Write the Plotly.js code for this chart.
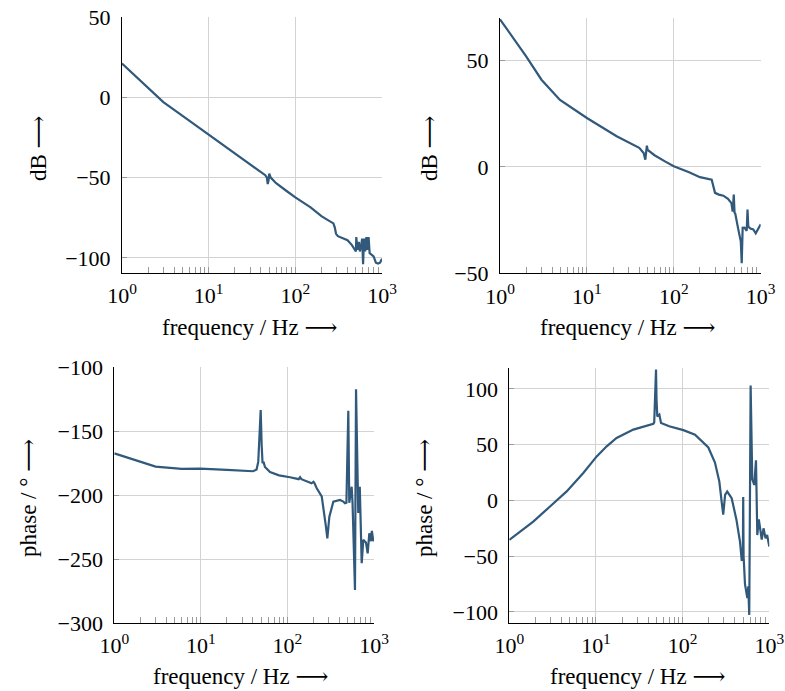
<!DOCTYPE html>
<html>
<head>
<meta charset="utf-8">
<script src="https://cdn.plot.ly/plotly-3.0.1.min.js"></script>
<style>html,body{margin:0;padding:0;background:#fff}#chart{width:785px;height:691px}</style>
</head>
<body>
<div id="chart"></div>
<script>
// ---- data ----
const freqMagA = [1, 2, 3, 5, 10, 20, 30, 40, 45, 47, 48, 49, 50, 52, 55, 60, 80, 100, 150, 200, 230, 260, 275, 285, 295, 310, 350, 400, 450, 480, 500, 505, 520, 540, 555, 575, 590, 605, 620, 640, 660, 680, 700, 720, 760, 800, 850, 900, 950, 1000];
const magA = [21, 6, -3, -11.6, -23.2, -34.8, -41.7, -46.5, -48.5, -50, -54, -52, -47.5, -50, -51.5, -53.5, -58.5, -62.3, -68.5, -74, -76, -77.5, -78.5, -81, -85, -86.5, -87.5, -89, -92, -94, -96, -87, -95, -90, -96, -92, -88, -104, -88, -96, -87, -95, -87, -97, -98, -99, -103, -103.5, -103, -100.5];

const freqMagB = [1, 1.5, 2, 3, 4.9, 10, 22, 40, 45, 47, 49, 50, 54, 60, 80, 100, 150, 200, 273, 285, 298, 330, 372, 420, 460, 476, 490, 500, 510, 550, 590, 605, 620, 650, 690, 705, 720, 760, 822, 877, 925, 1000];
const magB = [69.4, 59.5, 52, 41, 31.5, 23, 14.4, 9, 6.5, 3.4, 10, 8, 6.8, 5.5, 2.5, 0.3, -2.5, -4.8, -6, -9, -12.2, -13, -13.5, -15, -17, -21, -13, -21.5, -22, -29, -35, -45.3, -28.6, -28.5, -30, -20, -28, -29, -29.4, -31.2, -29.4, -27];

const freqPhaseA = [1, 3, 6, 9.8, 20, 40, 44, 46, 47.3, 49.1, 50.4, 51.6, 53, 55, 63, 80, 107, 135, 140, 145, 190, 200, 205, 218, 249, 264, 279, 289, 305, 339, 405, 442, 462, 480, 505, 518, 552, 565, 603, 620, 658, 685, 721, 752, 807, 845, 883, 922, 945, 982, 1000];
const phaseA = [-167.3, -177.7, -179.5, -179.3, -180.3, -181.3, -180, -174, -157, -133.4, -161, -175, -174, -178, -182, -184.5, -186, -187.5, -186, -187.5, -190.7, -189.5, -190.5, -194.6, -201, -211.6, -225, -233.8, -216.9, -205.1, -203.8, -205, -206.4, -206, -134, -206, -193.4, -206, -274.2, -117.2, -214, -193.4, -253.3, -235, -237, -245.5, -229.8, -236, -228, -236, -234];

const freqPhaseB = [1, 1.89, 2.95, 4.59, 7.14, 10.2, 13.3, 17.3, 27, 45.9, 47, 48, 49.3, 50, 51, 53.9, 56.3, 70, 102, 139, 198, 236, 265, 282, 294, 309, 327, 368, 417, 459, 480, 495, 500, 505, 524, 558, 572, 587, 609, 636, 671, 702, 727, 757, 818, 858, 906, 944, 1000];
const phaseB = [-35.3, -18.9, -5.4, 8.1, 24.6, 39.5, 48.5, 56, 63.5, 68.6, 70, 92, 117.3, 90, 75.4, 77, 69.5, 66.5, 63, 59, 47.5, 34, 17, -1, -12.8, 5, 8, 2, -17, -37, -53.3, -53, 3, -50, -75, -87.6, -77, -102.6, 103, 19, 14, 36, -31, -17, -35, -25, -34, -31, -41.3];

const xTickVals = [1, 10, 100, 1000];
const xTickText = ['10<sup>0</sup>', '10<sup>1</sup>', '10<sup>2</sup>', '10<sup>3</sup>'];
const xMinorVals = [2,3,4,5,6,7,8,9,20,30,40,50,60,70,80,90,200,300,400,500,600,700,800,900];
const yTicksMagA = [-100, -50, 0, 50];
const yTicksMagB = [-50, 0, 50];
const yTicksPhaseA = [-300, -250, -200, -150, -100];
const yTicksPhaseB = [-100, -50, 0, 50, 100];

const xTitle = 'frequency / Hz ⟶';
const yTitleMag = 'dB ⟶';
const yTitlePhase = 'phase / ° ⟶';

// ---- layout ----
const W = 785, H = 691;
const FONT = 'Liberation Serif, DejaVu Serif, serif';
const LINE = '#30597b';
function xd(a, b) { return [a / W, b / W]; }
function yd(top, bottom) { return [1 - bottom / H, 1 - top / H]; }

function xaxis(dom, anchor) {
  return {
    type: 'log', domain: dom, anchor: anchor, range: [0, 3],
    tickvals: xTickVals, ticktext: xTickText,
    ticks: 'inside', ticklen: 6, tickcolor: '#9a9a9a', tickwidth: 1,
    showgrid: true, gridcolor: '#d3d3d3', gridwidth: 1,
    showline: true, linecolor: '#000', linewidth: 1, mirror: false,
    zeroline: false, ticklabelstandoff: 3,
    tickfont: { family: FONT, size: 22, color: '#000' },
    minor: { tickvals: xMinorVals, ticks: 'inside', ticklen: 6, tickcolor: '#9a9a9a', tickwidth: 1, showgrid: false },
    fixedrange: true
  };
}
function yaxis(dom, anchor, range, tv) {
  return {
    domain: dom, anchor: anchor, range: range, tickvals: tv,
    ticks: 'inside', ticklen: 5, tickcolor: '#9a9a9a', tickwidth: 1,
    showgrid: true, gridcolor: '#d3d3d3', gridwidth: 1,
    showline: true, linecolor: '#000', linewidth: 1, mirror: false,
    zeroline: false, ticklabelstandoff: 6,
    tickfont: { family: FONT, size: 22, color: '#000' },
    fixedrange: true
  };
}

const tr = (x, y, xa, ya) => ({ x: x, y: y, xaxis: xa, yaxis: ya, type: 'scatter', mode: 'lines', line: { color: LINE, width: 2.2 }, hoverinfo: 'skip', showlegend: false });

const data = [
  tr(freqMagA, magA, 'x', 'y'),
  tr(freqMagB, magB, 'x2', 'y2'),
  tr(freqPhaseA, phaseA, 'x3', 'y3'),
  tr(freqPhaseB, phaseB, 'x4', 'y4')
];

function ann(text, x, y, rot) {
  return { text: text, xref: 'paper', yref: 'paper', x: x / W, y: 1 - y / H, xanchor: 'center', yanchor: 'middle', showarrow: false, textangle: rot || 0, font: { family: FONT, size: 23, color: '#000' } };
}

const layout = {
  width: W, height: H, margin: { l: 0, r: 0, t: 0, b: 0 },
  paper_bgcolor: '#fff', plot_bgcolor: '#fff', showlegend: false,
  xaxis: xaxis(xd(122, 382), 'y'),
  yaxis: yaxis(yd(17, 273), 'x', [-109.4, 50], yTicksMagA),
  xaxis2: xaxis(xd(500, 760.7), 'y2'),
  yaxis2: yaxis(yd(18, 273.3), 'x2', [-50, 70], yTicksMagB),
  xaxis3: xaxis(xd(114.3, 374), 'y3'),
  yaxis3: yaxis(yd(367.3, 623), 'x3', [-300, -100], yTicksPhaseA),
  xaxis4: xaxis(xd(509.3, 769.3), 'y4'),
  yaxis4: yaxis(yd(367.7, 622.7), 'x4', [-109.6, 119], yTicksPhaseB),
  annotations: [
    ann(xTitle, 249, 327),
    ann(xTitle, 627.5, 327),
    ann(xTitle, 240, 676),
    ann(xTitle, 637, 676),
    ann(yTitleMag, 38, 148, -90),
    ann(yTitleMag, 429, 148, -90),
    ann(yTitlePhase, 28, 498, -90),
    ann(yTitlePhase, 424, 498, -90)
  ]
};

Plotly.newPlot('chart', data, layout, { displayModeBar: false, staticPlot: true });
</script>
</body>
</html>
